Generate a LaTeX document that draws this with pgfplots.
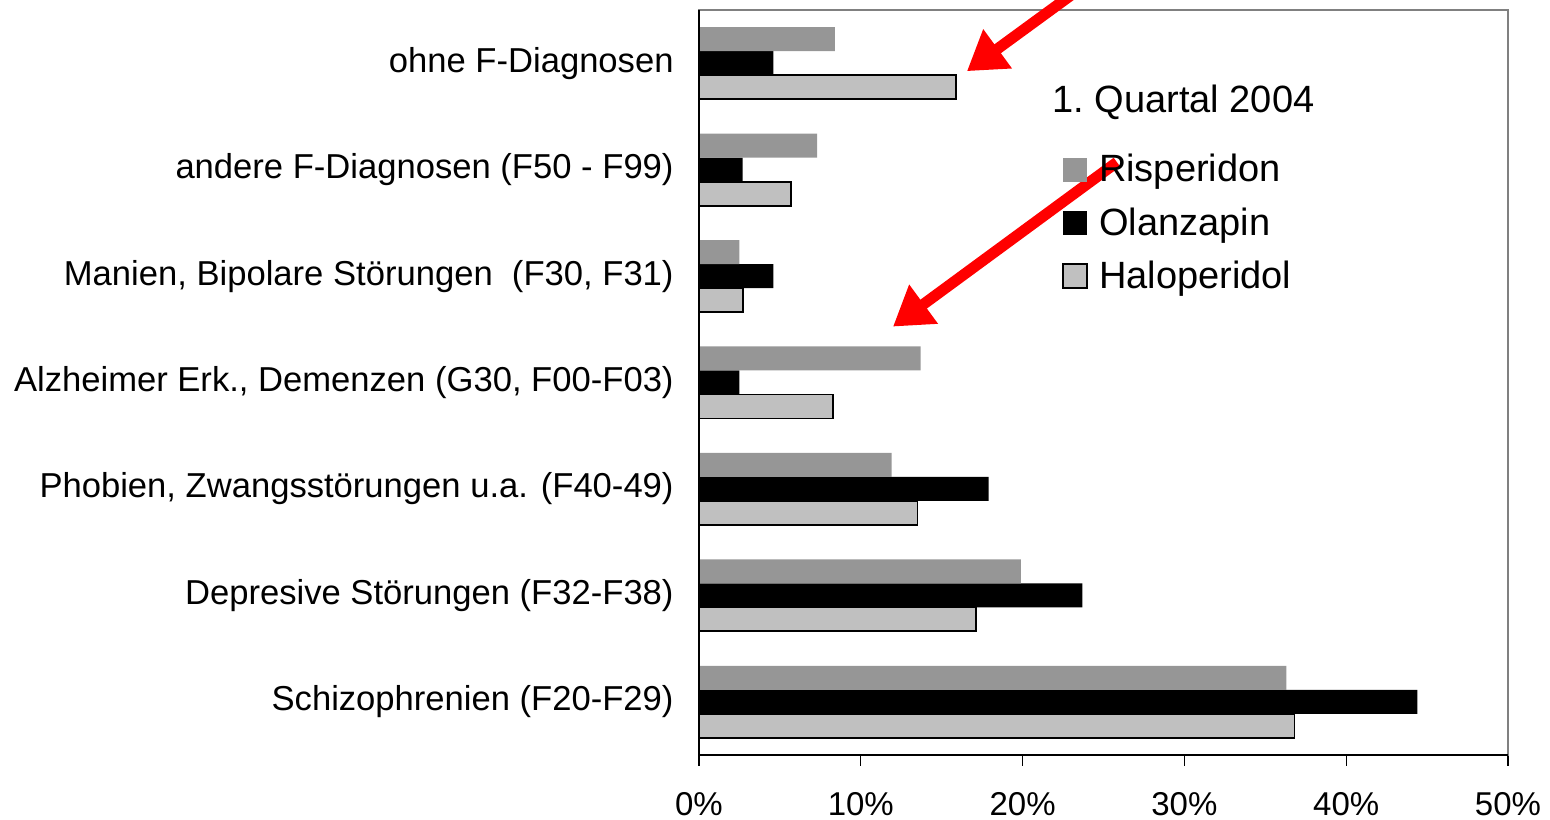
\documentclass[border=0pt]{standalone}
\usepackage{pgfplots}
\pgfplotsset{compat=1.18}
\usepackage{fontspec}
\setmainfont{Liberation Sans}
\usetikzlibrary{arrows.meta}
\definecolor{risp}{RGB}{150,150,150}
\definecolor{halo}{RGB}{192,192,192}
\definecolor{frame}{RGB}{128,128,128}
\begin{document}
\begin{tikzpicture}
\begin{axis}[
  name=ax,
  xbar, bar width=12pt,
  width=404.5pt, height=372.5pt, scale only axis,
  xmin=0, xmax=50, ymin=-0.5, ymax=6.5,
  clip=false,
  axis line style={frame, line width=0.8pt},
  xtick pos=lower, ytick pos=left,
  xtick={0,10,20,30,40,50},
  xticklabels={0\%,10\%,20\%,30\%,40\%,50\%},
  xticklabel style={font=\fontsize{16.5}{16.5}\selectfont, anchor=north, inner sep=0pt, yshift=-13pt},
  ytick={0,1,2,3,4,5,6},
  yticklabels={Schizophrenien (F20-F29),Depresive Störungen (F32-F38),{Phobien, Zwangsstörungen u.a. (F40-49)},{Alzheimer Erk., Demenzen (G30, F00-F03)},{Manien, Bipolare Störungen \ (F30, F31)},andere F-Diagnosen (F50 - F99)~,ohne F-Diagnosen},
  yticklabel style={font=\fontsize{17.3}{17.3}\selectfont, anchor=east, inner sep=0pt, xshift=-7pt},
  minor ytick={-0.5,0.5,...,6.5},
  tick align=outside,
  major tick length=5.5pt, minor tick length=4.5pt,
  ytick style={draw=none},
  minor tick style={draw=black, line width=0.6pt},
  xtick style={draw=black, line width=0.6pt},
  legend image code/.code={\path[#1] (0pt,-6pt) rectangle (12pt,6pt);},
  reverse legend,
  legend cell align=left,
  legend style={at={(axis cs:22.43,4.5)}, anchor=west, draw=none, fill=none,
    inner sep=0pt, font=\fontsize{19}{19}\selectfont, row sep=11.3pt,
    nodes={inner sep=0pt},
    /tikz/every odd column/.append style={column sep=5.5pt}},
]
\addplot[fill=halo, draw=black, line width=0.9pt, bar shift=-12pt] coordinates {(36.8,0) (17.1,1) (13.5,2) (8.3,3) (2.7,4) (5.7,5) (15.9,6)};
\addplot[fill=black, draw=none, bar shift=0pt] coordinates {(44.4,0) (23.7,1) (17.9,2) (2.5,3) (4.6,4) (2.7,5) (4.6,6)};
\addplot[fill=risp, draw=none, bar shift=12pt] coordinates {(36.3,0) (19.9,1) (11.9,2) (13.7,3) (2.5,4) (7.3,5) (8.4,6)};
\legend{Haloperidol,Olanzapin,Risperidon}
\node[anchor=west, inner sep=0pt, font=\fontsize{19}{19}\selectfont] at (axis cs:21.82,5.634) {1.\ Quartal 2004};
\draw[red, line width=5.5pt, -{Triangle[length=19pt,width=23pt]}] (axis cs:24.17,6.77) -- (axis cs:16.56,5.925);
\draw[red, line width=5.5pt, -{Triangle[length=19pt,width=23pt]}] (axis cs:25.83,5.07) -- (axis cs:11.99,3.525);
\draw[black, line width=0.8pt] (rel axis cs:0,1) -- (rel axis cs:0,0) -- (rel axis cs:1,0);
\end{axis}
\pgfresetboundingbox
\path[use as bounding box] ([xshift=-349.5pt,yshift=-32.5pt]ax.south west) rectangle ([xshift=21pt,yshift=5pt]ax.north east);
\end{tikzpicture}
\end{document}
